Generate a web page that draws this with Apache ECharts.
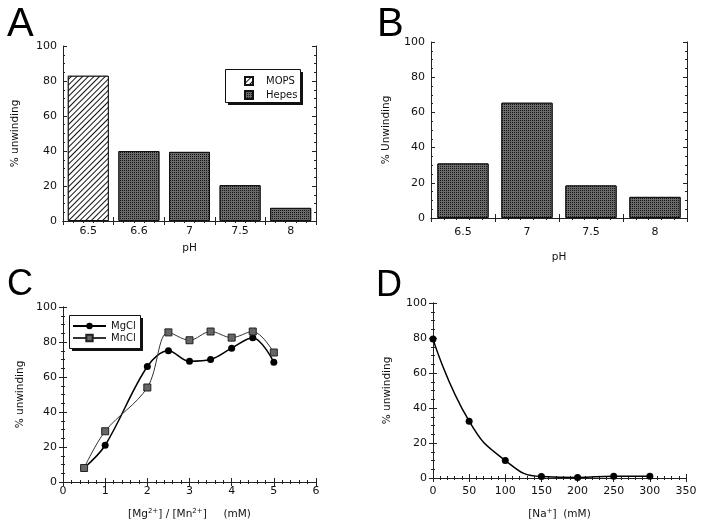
<!DOCTYPE html>
<html><head><meta charset="utf-8">
<script src="https://cdn.jsdelivr.net/npm/echarts@6/dist/echarts.min.js"></script>
<style>html,body{margin:0;padding:0;background:#fff}#c{width:704px;height:529px}</style>
</head><body><div id="c"></div>
<script>
// ---- Data ----
const phA = ['6.5', '6.6', '7', '7.5', '8'];
const mopsA = [83, '-', '-', '-', '-'];
const hepesA = ['-', 40, 39.5, 20.5, 7.5];

const phB = ['6.5', '7', '7.5', '8'];
const unwB = [31, 65.5, 18.5, 12];

const concC = [0.5, 1, 2, 2.5, 3, 3.5, 4, 4.5, 5];
const mgC = [8, 21, 66, 75, 69, 70, 76.5, 82.5, 68.5];
const mnC = [8, 29, 54, 85.5, 81, 86, 82.5, 86, 74];

const naD = [0, 50, 100, 150, 200, 250, 300];
const unwD = [79.5, 32.5, 10, 0.8, 0.3, 1, 1];

// ---- Styling ----
const FONT = 'DejaVu Sans';
const labelStyle = {fontFamily: FONT, fontSize: 11, color: '#111'};
const nameStyle = {fontFamily: FONT, fontSize: 10.5, color: '#111'};
const line = {lineStyle: {color: '#222', width: 1}};

const grids = [
  {left: 63, top: 46, width: 253, height: 175},
  {left: 431, top: 42, width: 256, height: 176},
  {left: 63, top: 307, width: 253, height: 175},
  {left: 433, top: 303, width: 253, height: 175}
];

function frameX(gi, max, ticks) {
  return {
    type: 'value', gridIndex: gi, position: 'top', min: 0, max: max, interval: max / ticks,
    axisLine: Object.assign({show: true}, line),
    axisTick: {show: true, inside: true, length: 4, lineStyle: {color: '#222'}},
    minorTick: {show: true, splitNumber: 5, length: 2, lineStyle: {color: '#222'}},
    axisLabel: {show: false}, splitLine: {show: false}
  };
}
function yLeft(gi, name, gap) {
  return {
    type: 'value', gridIndex: gi, min: 0, max: 100, interval: 20,
    name: name, nameLocation: 'middle', nameGap: gap, nameTextStyle: nameStyle,
    axisLine: Object.assign({show: true}, line),
    axisTick: {show: true, inside: true, length: 4, lineStyle: {color: '#222'}},
    minorTick: {show: true, splitNumber: 4, length: 2, lineStyle: {color: '#222'}},
    axisLabel: Object.assign({margin: 6}, labelStyle),
    splitLine: {show: false}
  };
}
function yRight(gi) {
  return {
    type: 'value', gridIndex: gi, position: 'right', min: 0, max: 100, interval: 20,
    axisLine: Object.assign({show: true}, line),
    axisTick: {show: true, inside: true, length: 4, lineStyle: {color: '#222'}},
    minorTick: {show: true, splitNumber: 4, length: 2, lineStyle: {color: '#222'}},
    axisLabel: {show: false}, splitLine: {show: false}
  };
}

const hatch = {
  symbol: 'rect', color: '#111', backgroundColor: '#fff',
  dashArrayX: [1, 0], dashArrayY: [1, 3], rotation: -Math.PI / 4
};
const stipple = {
  symbol: 'rect', symbolSize: 1, color: '#151515', backgroundColor: '#6a6a6a',
  dashArrayX: [1, 1], dashArrayY: [1, 1], rotation: 0
};

function legendBox(x, y, w, h) {
  return [
    {type: 'rect', left: x + 3, top: y + 3, z: 1, shape: {width: w, height: h}, style: {fill: '#111'}},
    {type: 'rect', left: x, top: y, z: 2, shape: {width: w, height: h}, style: {fill: '#fff', stroke: '#111', lineWidth: 1}}
  ];
}

const option = {
  backgroundColor: '#fff',
  animation: false,
  grid: grids,
  xAxis: [
    {type: 'category', gridIndex: 0, data: phA, name: 'pH', nameLocation: 'middle', nameGap: 22,
     nameTextStyle: nameStyle, axisLine: Object.assign({show: true}, line),
     axisTick: {show: true, inside: true, length: 4, lineStyle: {color: '#222'}},
     axisLabel: Object.assign({margin: 5}, labelStyle)},
    {type: 'category', gridIndex: 1, data: phB, name: 'pH', nameLocation: 'middle', nameGap: 34,
     nameTextStyle: nameStyle, axisLine: Object.assign({show: true}, line),
     axisTick: {show: true, inside: true, length: 4, lineStyle: {color: '#222'}},
     axisLabel: Object.assign({margin: 9}, labelStyle)},
    {type: 'value', gridIndex: 2, min: 0, max: 6, interval: 1,
     name: '[Mg{sup|2+}] / [Mn{sup|2+}]     (mM)', nameLocation: 'middle', nameGap: 26,
     nameTextStyle: Object.assign({rich: {sup: {fontFamily: FONT, fontSize: 7, padding: [0, 0, 6, 0]}}}, nameStyle),
     axisLine: Object.assign({show: true}, line),
     axisTick: {show: true, inside: true, length: 4, lineStyle: {color: '#222'}},
     minorTick: {show: true, splitNumber: 5, length: 2, lineStyle: {color: '#222'}},
     axisLabel: Object.assign({margin: 4}, labelStyle), splitLine: {show: false}},
    {type: 'value', gridIndex: 3, min: 0, max: 350, interval: 50,
     name: '[Na{sup|+}]  (mM)', nameLocation: 'middle', nameGap: 30,
     nameTextStyle: Object.assign({rich: {sup: {fontFamily: FONT, fontSize: 7, padding: [0, 0, 6, 0]}}}, nameStyle),
     axisLine: Object.assign({show: true}, line),
     axisTick: {show: true, inside: true, length: 4, lineStyle: {color: '#222'}},
     minorTick: {show: true, splitNumber: 5, length: 2, lineStyle: {color: '#222'}},
     axisLabel: Object.assign({margin: 8}, labelStyle), splitLine: {show: false}},
    frameX(0, 5, 5), frameX(1, 4, 4), frameX(2, 6, 6), frameX(3, 350, 7)
  ],
  yAxis: [
    yLeft(0, '% unwinding', 42), yLeft(1, '% Unwinding', 39),
    yLeft(2, '% unwinding', 37), yLeft(3, '% unwinding', 40),
    yRight(0), yRight(1), yRight(2), yRight(3)
  ],
  legend: [
    {data: ['MOPS', 'Hepes'], left: 244, top: 76, orient: 'vertical', align: 'left', z: 10,
     icon: 'rect', itemWidth: 8, itemHeight: 8, itemGap: 4, padding: 0,
     textStyle: {fontFamily: FONT, fontSize: 10, color: '#111', padding: [0, 0, 0, 8]}},
    {data: ['MgCl', 'MnCl'], left: 72, top: 321, orient: 'vertical', align: 'left', z: 10,
     itemWidth: 33, itemHeight: 8, itemGap: 2, padding: 0,
     textStyle: {fontFamily: FONT, fontSize: 10, color: '#111'}}
  ],
  series: [
    {name: 'MOPS', type: 'bar', xAxisIndex: 0, yAxisIndex: 0, stack: 'A', barWidth: '81%',
     data: mopsA, itemStyle: {color: '#fff', borderColor: '#111', borderWidth: 1, decal: hatch}},
    {name: 'Hepes', type: 'bar', xAxisIndex: 0, yAxisIndex: 0, stack: 'A', barWidth: '81%',
     data: hepesA, itemStyle: {color: '#3c3c3c', borderColor: '#111', borderWidth: 1, decal: stipple}},
    {name: 'B', type: 'bar', xAxisIndex: 1, yAxisIndex: 1, barWidth: '80%',
     data: unwB, itemStyle: {color: '#3c3c3c', borderColor: '#111', borderWidth: 1, decal: stipple}},
    {name: 'MgCl', type: 'line', xAxisIndex: 2, yAxisIndex: 2, smooth: 0.35,
     data: concC.map((x, i) => [x, mgC[i]]), symbol: 'circle', symbolSize: 7,
     lineStyle: {color: '#000', width: 1.5}, itemStyle: {color: '#000'}},
    {name: 'MnCl', type: 'line', xAxisIndex: 2, yAxisIndex: 2, smooth: 0.35,
     data: concC.map((x, i) => [x, mnC[i]]), symbol: 'rect', symbolSize: 7,
     lineStyle: {color: '#333', width: 1}, itemStyle: {color: '#666', borderColor: '#222', borderWidth: 1}},
    {name: 'D', type: 'line', xAxisIndex: 3, yAxisIndex: 3, smooth: 0.5,
     data: naD.map((x, i) => [x, unwD[i]]), symbol: 'circle', symbolSize: 7,
     lineStyle: {color: '#000', width: 1.5}, itemStyle: {color: '#000'}}
  ],
  graphic: [].concat(
    legendBox(225, 69, 75, 33),
    legendBox(69, 315, 71, 33),
    [
      {type: 'text', left: 7, top: 5, style: {text: 'A', font: '40px "Liberation Sans"', fill: '#000'}},
      {type: 'text', left: 377, top: 5, style: {text: 'B', font: '40px "Liberation Sans"', fill: '#000'}},
      {type: 'text', left: 7, top: 267, style: {text: 'C', font: '36px "Liberation Sans"', fill: '#000'}},
      {type: 'text', left: 376, top: 268, style: {text: 'D', font: '36px "Liberation Sans"', fill: '#000'}}
    ]
  )
};

const chart = echarts.init(document.getElementById('c'), null, {renderer: 'canvas'});
chart.setOption(option);
</script>
</body></html>
